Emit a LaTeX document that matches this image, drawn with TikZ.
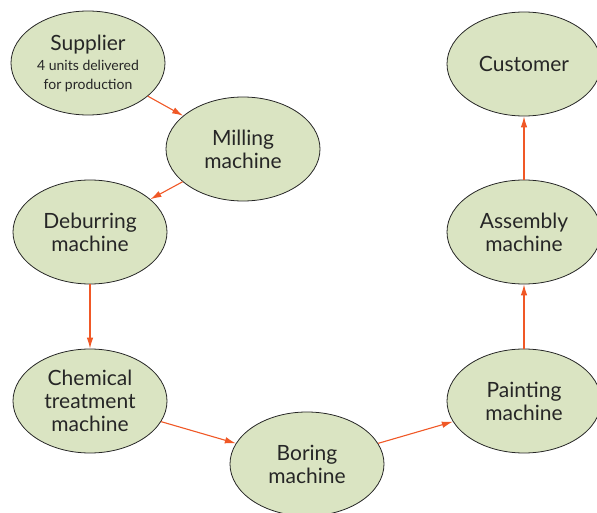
\documentclass[tikz,border=0pt]{standalone}
\usepackage{fontspec}
\setmainfont{Lato}
\usetikzlibrary{shapes.geometric,arrows.meta}
\definecolor{nodegreen}{RGB}{218,228,194}
\definecolor{floworange}{RGB}{240,88,38}
\begin{document}
\begin{tikzpicture}[x=1pt,y=-1pt,
  machine/.style={ellipse, draw=black!85, fill=nodegreen, line width=0.8pt,
    minimum width=154pt, minimum height=104pt, inner sep=0pt, align=center,
    font=\fontsize{21}{23}\selectfont, text=black!85},
  flow/.style={-{Latex[length=11pt,width=6.5pt]}, floworange, line width=1.1pt}]
  \useasboundingbox (0,0) rectangle (597,513);

  % Machines
  \node[machine] (supplier) at (88,63) {Supplier\\[-3pt]{\fontsize{14}{18}\selectfont 4 units delivered}\\[-4pt]{\fontsize{14}{18}\selectfont for production}};
  \node[machine] (milling) at (243,149) {Milling\\machine};
  \node[machine] (deburring) at (90,232) {Deburring\\machine};
  \node[machine] (chemical) at (90,401) {Chemical\\treatment\\machine};
  \node[machine] (boring) at (307,464) {Boring\\machine};
  \node[machine] (painting) at (524,401) {Painting\\machine};
  \node[machine] (assembly) at (524,232) {Assembly\\machine};
  \node[machine] (customer) at (524,64) {Customer};

  % Material flow
  \draw[flow] (supplier) -- (milling);
  \draw[flow] (milling) -- (deburring);
  \draw[flow] (deburring) -- (chemical);
  \draw[flow] (chemical) -- (boring);
  \draw[flow] (boring) -- (painting);
  \draw[flow] (painting) -- (assembly);
  \draw[flow] (assembly) -- (customer);
\end{tikzpicture}
\end{document}
